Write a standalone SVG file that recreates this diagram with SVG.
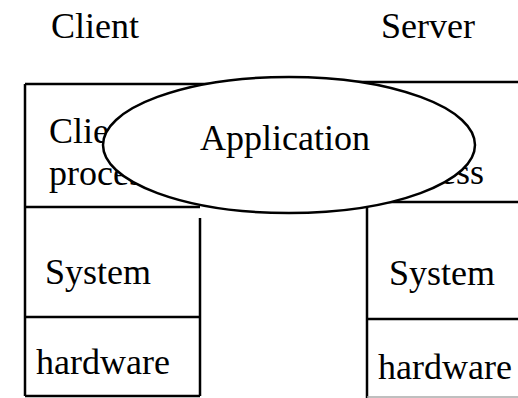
<svg xmlns="http://www.w3.org/2000/svg" width="518" height="398" viewBox="0 0 518 398">
<style>
text{font-family:'Liberation Serif','Times New Roman',serif;font-size:36px;fill:#000}
.ln{stroke:#000;stroke-width:2.5;fill:none}
.el{stroke:#000;stroke-width:2.5;fill:#fff}
</style>
<rect width="518" height="398" fill="#fff"/>
<g id="titles">
<text x="51" y="38">Client</text>
<text x="381" y="38">Server</text>
</g>
<g id="client">
<text x="49" y="143">Client</text>
<text x="49" y="185">process</text>
<path class="ln" d="M25,84 H289 M25,84 V396 M25,207 H200 M200,218 V396 M25,317 H200 M25,396 H200"/>
<text x="45" y="284">System</text>
<text x="36" y="374">hardware</text>
</g>
<g id="server">
<text x="376" y="184">process</text>
<path class="ln" d="M289,82 H518 M380,202 H518 M367,200 V398 M367,319 H518"/>
<path d="M367,397 H518" stroke="#aaa" stroke-width="1.5"/>
<text x="389" y="285">System</text>
<text x="378" y="379">hardware</text>
</g>
<g id="application">
<ellipse class="el" cx="289" cy="145" rx="186" ry="68"/>
<text x="200" y="150">Application</text>
</g>
<g id="connectors"></g>
</svg>
